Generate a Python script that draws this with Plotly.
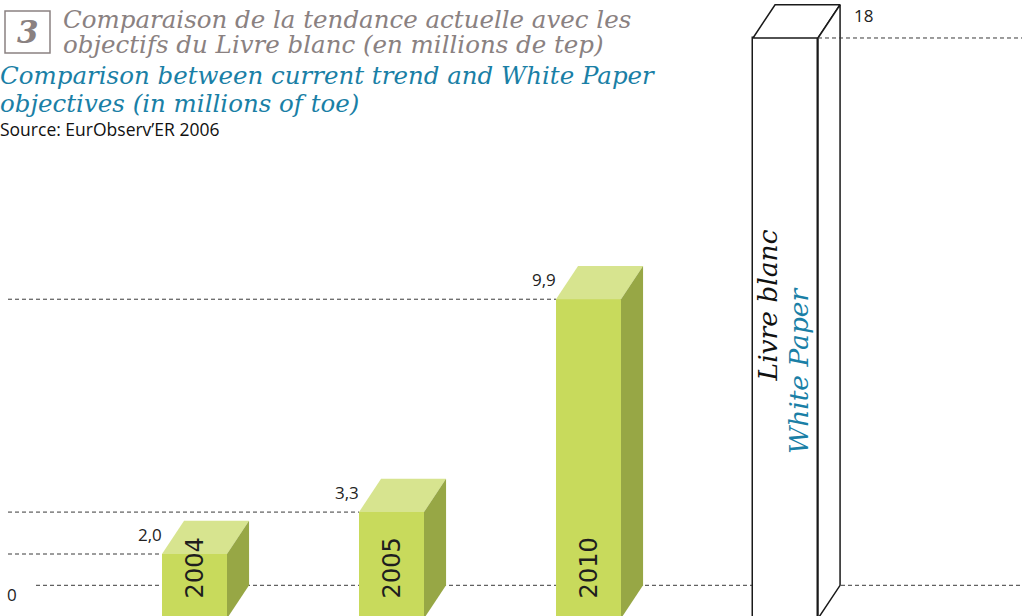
import plotly.graph_objects as go

# ---------------- data ----------------
years = ["2004", "2005", "2010"]
values = [2.0, 3.3, 9.9]
value_labels = ["2,0", "3,3", "9,9"]
target_value = 18.0
target_label = "18"
target_fr = "Livre blanc"
target_en = "White Paper"

title_fr = ["Comparaison de la tendance actuelle avec les",
            "objectifs du Livre blanc (en millions de tep)"]
title_en = ["Comparison between current trend and White Paper",
            "objectives (in millions of toe)"]
source = "Source: EurObserv’ER 2006"
chart_no = "3"

# ---------------- style / geometry ----------------
W, H = 1022, 616
FRONT = "#c8da5c"
TOP = "#d7e48f"
SIDE = "#97a745"
DASH_COL = "#3a3a3a"
GRAY = "#8a8181"
BLUE = "#1a7fa6"
BAR_W = 0.33
DX = 0.112
DY = 1.03
XR = [-0.9873, 4.2005]
YR = [0.078, 19.178]
SERIF = "DejaVu Serif"
SANS = "Open Sans"

pos = list(range(len(years)))
tpos = len(years)

fig = go.Figure()


def box(x, v, face, top, side, line=None):
    l, r = x - BAR_W / 2, x + BAR_W / 2
    ln = dict(width=0) if line is None else dict(color=line, width=1.5)
    fig.add_trace(go.Bar(x=[x], y=[v], width=BAR_W, marker=dict(color=face, line=ln),
                         hoverinfo="skip", showlegend=False))
    fig.add_trace(go.Scatter(x=[l, l + DX, r + DX, r, l], y=[v, v + DY, v + DY, v, v],
                             fill="toself", fillcolor=top, mode="lines",
                             line=ln if line else dict(width=0, color=top),
                             hoverinfo="skip", showlegend=False))
    fig.add_trace(go.Scatter(x=[r, r + DX, r + DX, r, r], y=[v, v + DY, DY, 0, v],
                             fill="toself", fillcolor=side, mode="lines",
                             line=ln if line else dict(width=0, color=side),
                             hoverinfo="skip", showlegend=False))


for p, v in zip(pos, values):
    box(p, v, FRONT, TOP, SIDE)
box(tpos, target_value, "white", "white", "white", line="#1a1a1a")

shapes = []
dash = "4px,3px"
# floor line
shapes.append(dict(type="line", xref="x", yref="y", x0=XR[0] + 36 / 197, x1=XR[1],
                   y0=DY, y1=DY, line=dict(color=DASH_COL, width=1, dash=dash), layer="below"))
# value lines
for p, v in zip(pos, values):
    shapes.append(dict(type="line", xref="x", yref="y", x0=XR[0] + 8 / 197, x1=p - BAR_W / 2,
                       y0=v, y1=v, line=dict(color=DASH_COL, width=1, dash=dash), layer="below"))
shapes.append(dict(type="line", xref="x", yref="y", x0=tpos + BAR_W / 2, x1=XR[1],
                   y0=target_value, y1=target_value,
                   line=dict(color=DASH_COL, width=1, dash=dash), layer="above"))
# number box
shapes.append(dict(type="rect", xref="paper", yref="paper", x0=5 / W, x1=50 / W,
                   y0=1 - 53 / H, y1=1 - 11 / H, line=dict(color=GRAY, width=1.5)))

ann = []
for p, v, lab, yr in zip(pos, values, value_labels, years):
    ann.append(dict(x=p - BAR_W / 2, y=v, xref="x", yref="y", text=lab, showarrow=False,
                    xanchor="right", yanchor="middle", xshift=2, yshift=20,
                    font=dict(family=SANS, size=17, color="#222")))
    ann.append(dict(x=p, y=1.57, xref="x", yref="y", text=yr, showarrow=False,
                    textangle=-90, font=dict(family="DejaVu Sans", size=24, color="#1e1e1e")))
ann.append(dict(x=tpos + BAR_W / 2 + DX, y=target_value, xref="x", yref="y", text=target_label,
                showarrow=False, xanchor="left", yanchor="middle", xshift=12, yshift=22,
                font=dict(family=SANS, size=17, color="#222")))
ann.append(dict(x=XR[0], y=0.73, xref="x", yref="y", text="0", showarrow=False,
                xanchor="left", xshift=5, yanchor="middle",
                font=dict(family=SANS, size=17, color="#222")))
ann.append(dict(x=tpos - 0.09, y=9.7, xref="x", yref="y", text="<i>" + target_fr + "</i>",
                showarrow=False, textangle=-90,
                font=dict(family=SERIF, size=26.5, color="#111")))
ann.append(dict(x=tpos + 0.063, y=7.7, xref="x", yref="y", text="<i>" + target_en + "</i>",
                showarrow=False, textangle=-90,
                font=dict(family=SERIF, size=26.5, color=BLUE)))

# titles
ann.append(dict(x=27.5 / W, y=1 - 32 / H, xref="paper", yref="paper", text="<b><i>" + chart_no + "</i></b>",
                showarrow=False, xanchor="center", yanchor="middle",
                font=dict(family=SERIF, size=31, color=GRAY)))
for i, t in enumerate(title_fr):
    ann.append(dict(x=61 / W, y=1 - (20 + 25 * i) / H, xref="paper", yref="paper",
                    text="<i>" + t + "</i>", showarrow=False, xanchor="left", yanchor="middle",
                    font=dict(family=SERIF, size=24.5, color=GRAY)))
for i, t in enumerate(title_en):
    ann.append(dict(x=0, y=1 - (76 + 28 * i) / H, xref="paper", yref="paper",
                    text="<i>" + t + "</i>", showarrow=False, xanchor="left", yanchor="middle",
                    xshift=-2,
                    font=dict(family=SERIF, size=24.5, color=BLUE)))
ann.append(dict(x=0, y=1 - 129 / H, xref="paper", yref="paper", text=source, showarrow=False,
                xanchor="left", yanchor="middle", xshift=-2,
                font=dict(family=SANS, size=17.5, color="#111")))

fig.update_layout(
    width=W, height=H, margin=dict(l=0, r=0, t=0, b=0),
    paper_bgcolor="white", plot_bgcolor="white",
    xaxis=dict(range=XR, visible=False, fixedrange=True),
    yaxis=dict(range=YR, visible=False, fixedrange=True),
    shapes=shapes, annotations=ann, barmode="overlay", bargap=0,
)
fig.write_html("out.html", config={"displayModeBar": False},
               post_script="document.body.style.margin='0';")
